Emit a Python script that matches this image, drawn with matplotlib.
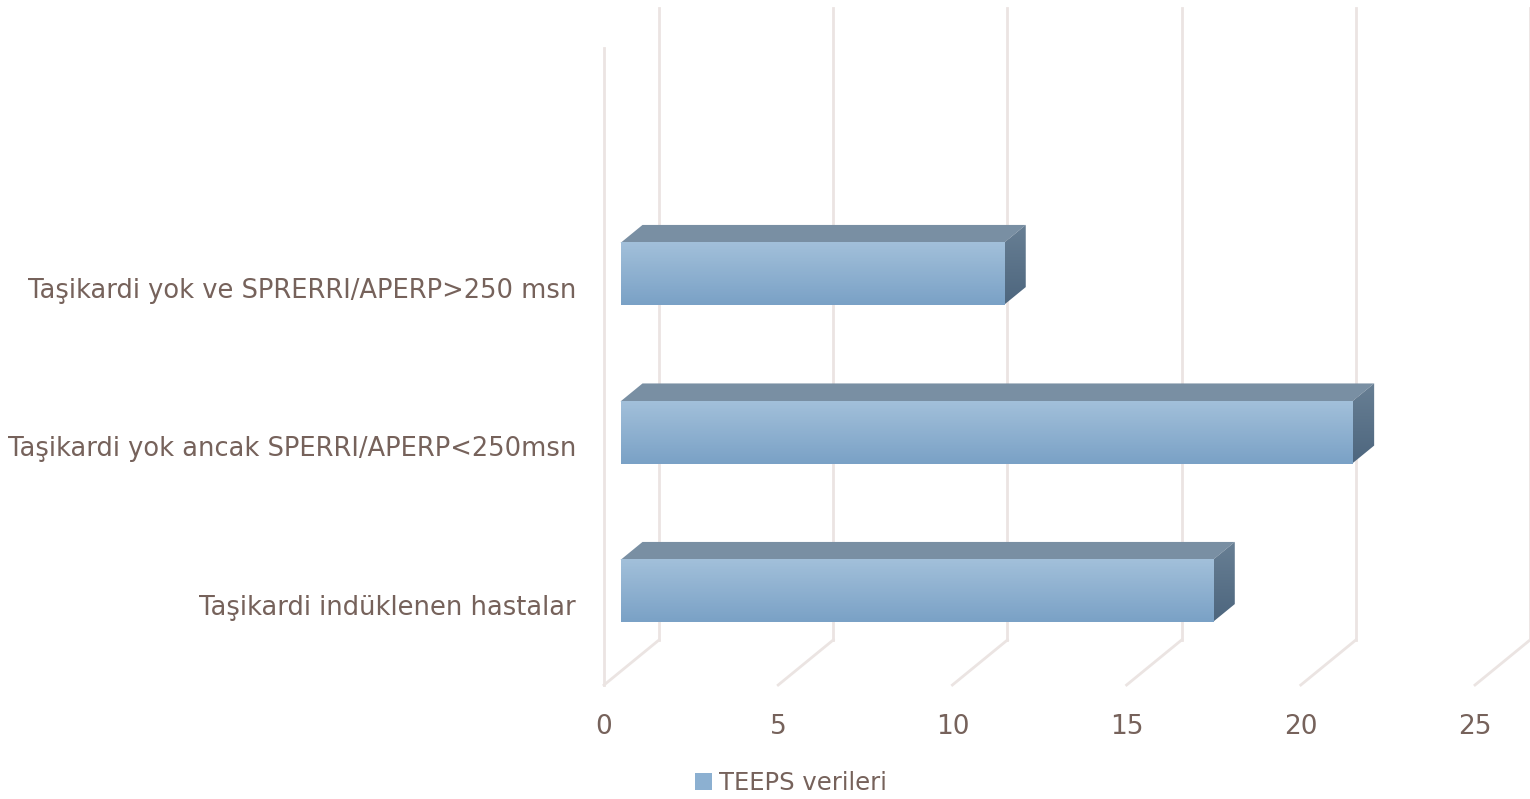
import numpy as np
import matplotlib.pyplot as plt
from matplotlib.patches import Polygon, Patch
from matplotlib.colors import LinearSegmentedColormap

# chart data
categories = ['Taşikardi indüklenen hastalar',
              'Taşikardi yok ancak SPERRI/APERP<250msn',
              'Taşikardi yok ve SPRERRI/APERP>250 msn']
values = [17, 21, 11]
xticks = [0, 5, 10, 15, 20, 25]
series_name = 'TEEPS verileri'

text_col = '#76625b'
grid_col = '#ebe4e2'

# oblique depth of the 3d box (data units)
DX, DY = 1.579, 0.284
half_h = 0.196
front = 0.3     # bar front face depth fraction
depth = 0.4     # bar depth fraction

plt.rcParams['font.family'] = ['DejaVu Sans']

fig = plt.figure(figsize=(15.3, 7.99), dpi=100)
W, H = 1530, 799
ax = fig.add_axes([604 / W, 1 - 685 / H, 871 / W, (685 - 48) / H])
ax.set_xlim(0, 25)
ax.set_ylim(-0.593, 3.426)
for s in ax.spines.values():
    s.set_visible(False)

# walls / gridlines
y_floor = -0.593
y_top_back = 3.678
for t in xticks:
    ax.plot([t + DX, t + DX], [y_floor + DY, y_top_back], color=grid_col,
            lw=2, clip_on=False, zorder=1)
    ax.plot([t, t + DX], [y_floor, y_floor + DY], color=grid_col,
            lw=2, clip_on=False, zorder=1)
ax.plot([0, 0], [y_floor, 3.426], color=grid_col, lw=2, clip_on=False, zorder=1)

front_cmap = LinearSegmentedColormap.from_list('f', ['#7aa1c6', '#a2c0da'])
side_cmap = LinearSegmentedColormap.from_list('s', ['#4d667e', '#687f94'])
grad = np.linspace(0, 1, 100).reshape(-1, 1)

for i, v in enumerate(values):
    x0 = front * DX
    x1 = x0 + v
    yb, yt = i - half_h, i + half_h
    ddx, ddy = depth * DX, depth * DY
    # top face
    ax.add_patch(Polygon([(x0, yt), (x1, yt), (x1 + ddx, yt + ddy), (x0 + ddx, yt + ddy)],
                         closed=True, facecolor='#798fa3', edgecolor='none', zorder=3))
    # side face with gradient
    side = Polygon([(x1, yb), (x1, yt), (x1 + ddx, yt + ddy), (x1 + ddx, yb + ddy)],
                   closed=True, facecolor='none', edgecolor='none', zorder=3)
    ax.add_patch(side)
    im = ax.imshow(grad, cmap=side_cmap, extent=[x1, x1 + ddx, yb, yt + ddy],
                   origin='lower', aspect='auto', zorder=3)
    im.set_clip_path(side)
    # front face with gradient
    ax.imshow(grad, cmap=front_cmap, extent=[x0, x1, yb, yt],
              origin='lower', aspect='auto', zorder=4)

ax.set_xlim(0, 25)
ax.set_ylim(-0.593, 3.426)

ax.set_xticks(xticks)
ax.set_xticklabels([str(t) for t in xticks], fontsize=19, color=text_col)
ax.tick_params(axis='x', length=0, pad=21)
ax.set_yticks([i - front * DY for i in range(len(categories))])
ax.set_yticklabels(categories, fontsize=18.5, color=text_col)
ax.tick_params(axis='y', length=0, pad=20)

leg = fig.legend(handles=[Patch(facecolor='#8cb0d1', edgecolor='none', label=series_name)],
                 loc='center', bbox_to_anchor=(791 / W, 1 - 783 / H), frameon=False,
                 fontsize=17.5, handlelength=0.7, handleheight=0.7, handletextpad=0.3)
for t in leg.get_texts():
    t.set_color(text_col)

fig.savefig('out.png', dpi=100, facecolor='white')
